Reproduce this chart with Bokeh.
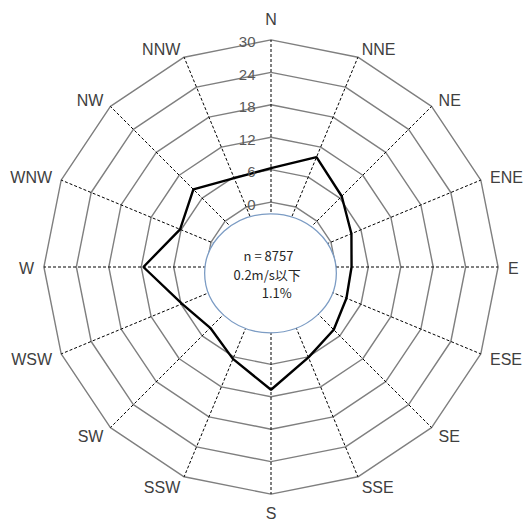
import numpy as np
from bokeh.plotting import figure
from bokeh.models import Range1d, ColumnDataSource
from bokeh.core.properties import value
from bokeh.embed import file_html
from bokeh.resources import INLINE

# ---------------- data ----------------
directions = ["N", "NNE", "NE", "ENE", "E", "ESE", "SE", "SSE",
              "S", "SSW", "SW", "WSW", "W", "WNW", "NW", "NNW"]
frequency = [6.3, 10.0, 6.5, 4.1, 2.9, 3.1, 4.4, 6.1,
             10.7, 6.4, 3.9, 5.8, 11.6, 6.2, 8.3, 5.8]
ring_values = [0, 6, 12, 18, 24, 30]
ring_labels = ["0", "6", "12", "18", "24", "30"]
sample_count = 8757
calm_label = "0.2m/s以下"
calm_percent = 1.1

# ---------------- layout ----------------
HOLE = 12.0        # radial offset (value units) reserved for the calm circle
PX = 5.407         # pixels per value unit
W, H = 526, 525
CX, CY = 270.5, 266.5   # centre, figure pixels from top-left

p = figure(width=W, height=H, output_backend="svg", toolbar_location=None,
           x_range=Range1d(-CX / PX, (W - CX) / PX),
           y_range=Range1d(-(H - CY) / PX, CY / PX),
           min_border=0, x_axis_location=None, y_axis_location=None)
p.grid.visible = False
p.outline_line_color = None
p.background_fill_color = "white"
p.border_fill_color = "white"

n = len(directions)
theta = np.arange(n) * 2 * np.pi / n
sn, cs = np.sin(theta), np.cos(theta)


def polar(r):
    r = HOLE + np.asarray(r, dtype=float)
    return r * sn, r * cs


# rings
ring_xs, ring_ys = [], []
for v in ring_values:
    x, y = polar(np.full(n, v))
    ring_xs.append(list(x) + [x[0]])
    ring_ys.append(list(y) + [y[0]])
p.multi_line(ring_xs, ring_ys, line_color="#7f7f7f", line_width=1.4)

# spokes
ox, oy = polar(np.full(n, ring_values[-1]))
p.segment(x0=np.zeros(n), y0=np.zeros(n), x1=ox, y1=oy,
          line_color="#000000", line_width=1, line_dash="3 2")

# data polygon
dx, dy = polar(frequency)
p.line(list(dx) + [dx[0]], list(dy) + [dy[0]], line_color="#000000", line_width=2.4)

# calm circle
p.ellipse(x=-0.5 / PX, y=-6.3 / PX, width=131.7 / PX, height=119 / PX,
          fill_color="white", line_color="#7c9cc4", line_width=1.3)

# direction labels
lx, ly, la = [], [], []
for i in range(n):
    if abs(sn[i]) < 0.1:
        r = 249.0 if cs[i] > 0 else 245.0
        la.append("center")
    else:
        r = 237.0
        la.append("left" if sn[i] > 0 else "right")
    lx.append(r * sn[i] / PX)
    ly.append(r * cs[i] / PX)
src = ColumnDataSource(dict(x=lx, y=ly, text=directions, align=la))
p.text(x="x", y="y", text="text", text_align="align", source=src,
       text_baseline="middle", y_offset=1.5, text_font=value("Liberation Sans"),
       text_font_size="16px", text_color="#404040")

# ring tick labels
p.text(x=np.full(len(ring_values), -15.5 / PX), y=HOLE + np.asarray(ring_values, dtype=float),
       text=ring_labels, text_align="right", text_baseline="middle", y_offset=2.5,
       text_font=value("Liberation Sans"), text_font_size="15px", text_color="#595959")

# centre texts
p.text(x=[-2.5 / PX, -3.8 / PX, 5.8 / PX], y=[11.5 / PX, -7.8 / PX, -25.8 / PX],
       text=[f"n = {sample_count}", calm_label, f"{calm_percent}%"],
       text_align="center", text_baseline="middle",
       text_font=value("Noto Sans CJK JP"), text_font_size="13px", text_color="#262626")

open("out.html", "w").write(file_html(p, INLINE))
